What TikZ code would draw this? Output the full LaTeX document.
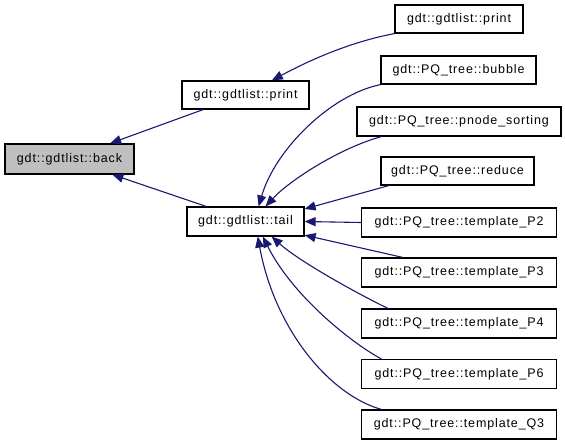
\documentclass[tikz,border=0pt]{standalone}
\usepackage{fontspec}
\setmainfont[LetterSpace=7]{Liberation Sans}
\usetikzlibrary{arrows.meta}
\definecolor{edgeblue}{HTML}{191970}
\begin{document}
\begin{tikzpicture}[x=1pt, y=-1pt, >={Triangle[length=11pt,width=9pt]},
  fn/.style={draw, line width=1.2pt, inner sep=0pt, minimum height=28pt,
    font=\fontsize{12.5}{14}\selectfont},
  edge/.style={->, edgeblue, line width=1.1pt}]
\useasboundingbox (0,0) rectangle (565,442);
% Knoten
\node[fn, fill={rgb,255:red,191;green,191;blue,191}, minimum width=129pt, minimum height=30pt] (back) at (69.5,159) {gdt::gdtlist::back};
\node[fn, minimum width=127pt] (glprint) at (245.5,95)  {gdt::gdtlist::print};
\node[fn, minimum width=117pt, minimum height=29pt] (tail) at (245.5,221.5) {gdt::gdtlist::tail};
\node[fn, minimum width=128pt] (print)   at (459,19)    {gdt::gdtlist::print};
\node[fn, minimum width=155pt] (bubble)  at (458.5,70)  {gdt::PQ\_tree::bubble};
\node[fn, minimum width=204pt, minimum height=29pt] (pnode) at (459,121.5) {gdt::PQ\_tree::pnode\_sorting};
\node[fn, minimum width=153pt] (reduce)  at (457.5,171) {gdt::PQ\_tree::reduce};
\node[fn, minimum width=195pt, minimum height=29pt] (tP2) at (459,222.5) {gdt::PQ\_tree::template\_P2};
\node[fn, minimum width=195pt, minimum height=29pt] (tP3) at (459,272.5) {gdt::PQ\_tree::template\_P3};
\node[fn, minimum width=195pt, minimum height=29pt] (tP4) at (459,323.5) {gdt::PQ\_tree::template\_P4};
\node[fn, minimum width=195pt, minimum height=29pt] (tP6) at (459,374)   {gdt::PQ\_tree::template\_P6};
\node[fn, minimum width=195pt, minimum height=29pt] (tQ3) at (459,424.5) {gdt::PQ\_tree::template\_Q3};
% Aufrufe nach back
\draw[edge] (glprint.199) -- (back.21);
\draw[edge] (tail.159) -- (back.-20);
% Aufruf nach print
\draw[edge] (print.south west) .. controls (350,42) and (310,60) .. (glprint.29);
% Aufrufe nach tail
\draw[edge] (bubble.south west) .. controls (330,95) and (275,150) .. (tail.49);
\draw[edge] (pnode.191) .. controls (340,148) and (290,180) .. (tail.37);
\draw[edge] (reduce.192) -- (tail.12);
\draw[edge] (tP2.west) -- (tail.east);
\draw[edge] (tP3.165) -- (tail.-13);
\draw[edge] (tP4.168.5) .. controls (360,295) and (300,262) .. (tail.-30.6);
\draw[edge] (tP6.169.3) .. controls (350,342) and (292,295) .. (tail.-41.3);
\draw[edge] (tQ3.169.7) .. controls (330,395) and (275,330) .. (tail.-51.6);
\end{tikzpicture}
\end{document}
